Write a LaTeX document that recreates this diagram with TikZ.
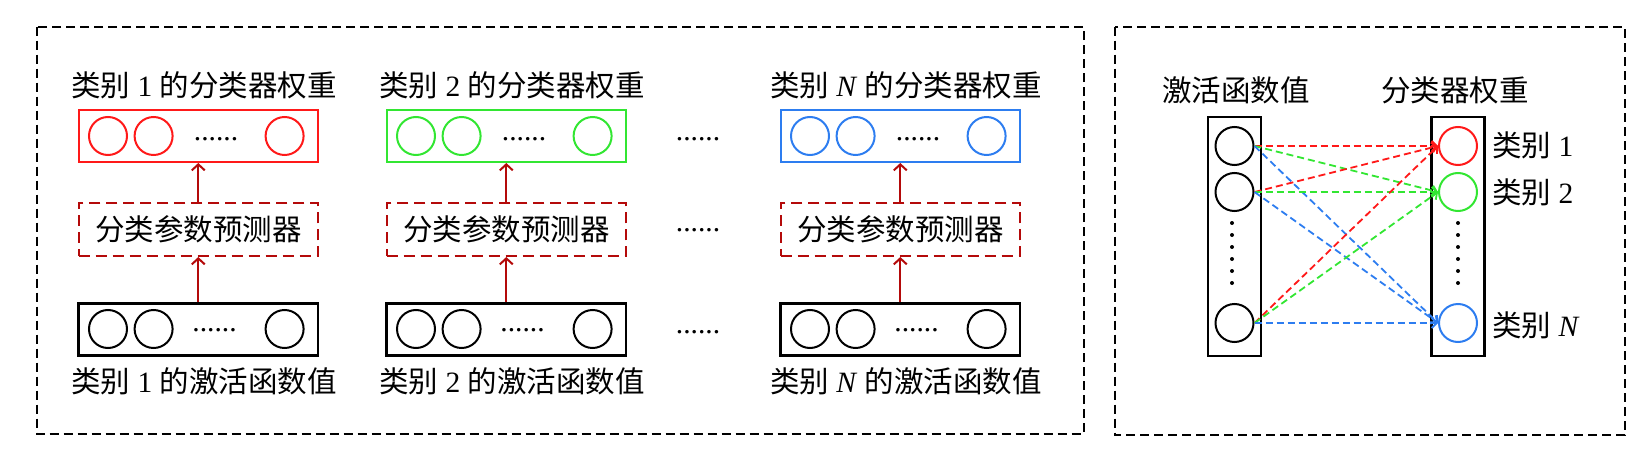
\documentclass[tikz,border=0pt]{standalone}
\usepackage{fontspec}
\setmainfont{Liberation Serif}
\newfontfamily\cjk{Noto Sans CJK SC}
\usetikzlibrary{arrows.meta}
\definecolor{cred}{RGB}{255,25,25}
\definecolor{cgreen}{RGB}{50,230,50}
\definecolor{cblue}{RGB}{45,125,240}
\definecolor{cdark}{RGB}{180,10,10}
\begin{document}
\begin{tikzpicture}[x=1pt,y=-1pt,
  font=\fontsize{29.5}{32}\selectfont,
  frame/.style={draw=black, line width=2pt, dash pattern=on 9pt off 5pt},
  vecbox/.style={draw, line width=2pt, minimum width=239.4pt, minimum height=52pt, inner sep=0pt},
  predbox/.style={draw=cdark, line width=2pt, dash pattern=on 11pt off 6pt, minimum width=239.4pt, minimum height=53pt, inner sep=0pt},
  unit/.style={circle, draw, line width=2pt, minimum size=38pt, inner sep=0pt},
  uparrow/.style={draw=cdark, line width=2pt, -{Straight Barb[length=6pt,width=13pt]}},
  link/.style={line width=1.8pt, dash pattern=on 7pt off 4pt, -{Straight Barb[length=5pt,width=10pt]}},
  txt/.style={inner sep=0pt},
  vdot/.style={circle, fill, inner sep=0pt, minimum size=4pt},
  tallbox/.style={draw, line width=2.5pt, minimum width=53pt, minimum height=239pt, inner sep=0pt}
]
\useasboundingbox (0,0) rectangle (1650,460);

% frames
\draw[frame] (36.8,26.7) rectangle (1083.6,434);
\draw[frame] (1114.5,26.7) rectangle (1625,435);

% left panel columns
\foreach \i/\dx/\col/\lab in {1/0/cred/1, 2/308/cgreen/2, 3/702/cblue/\textit{N}} {
  \node[txt] (t\i) at (204+\dx,85) {{\cjk 类别} \lab{} {\cjk 的分类器权重}};
  \node[vecbox, draw=\col] (w\i) at (198.3+\dx,136) {};
  \node[unit, draw=\col] (wa\i) at (108+\dx,136) {};
  \node[unit, draw=\col] (wb\i) at (153.6+\dx,136) {};
  \node[unit, draw=\col] (wc\i) at (284.6+\dx,136) {};
  \node[txt, anchor=base] (wd\i) at (216+\dx,140) {......};
  \node[predbox] (p\i) at (198.3+\dx,229.5) {\cjk 分类参数预测器};
  \node[vecbox, line width=2.5pt] (a\i) at (198.3+\dx,329.5) {};
  \node[unit] (aa\i) at (108+\dx,329) {};
  \node[unit] (ab\i) at (153.6+\dx,329) {};
  \node[unit] (ac\i) at (284.6+\dx,329) {};
  \node[txt, anchor=base] (ad\i) at (214.5+\dx,331) {......};
  \node[txt] (b\i) at (204+\dx,381.7) {{\cjk 类别} \lab{} {\cjk 的激活函数值}};
  \draw[uparrow] (a\i.north) -- (p\i.south);
  \draw[uparrow] (p\i.north) -- (w\i.south);
}
\node[txt, anchor=base] (m1) at (698,140) {......};
\node[txt, anchor=base] (m2) at (698,231) {......};
\node[txt, anchor=base] (m3) at (698,333) {......};

% right panel
\node[txt] (hl) at (1236,90) {\cjk 激活函数值};
\node[txt] (hr) at (1455,90) {\cjk 分类器权重};
\node[tallbox] (L) at (1234.5,236.5) {};
\node[tallbox] (R) at (1458,236.5) {};
\node[unit] (l1) at (1234.5,146) {};
\node[unit] (l2) at (1234.5,192) {};
\node[unit] (l3) at (1234.5,323) {};
\node[unit, draw=cred] (r1) at (1458,146) {};
\node[unit, draw=cgreen] (r2) at (1458,192) {};
\node[unit, draw=cblue] (r3) at (1458,323) {};
\foreach \k in {0,...,5} {
  \node[vdot] (ldot\k) at (1232,223+12*\k) {};
  \node[vdot] (rdot\k) at (1458,223+12*\k) {};
}
\node[txt, anchor=west] (c1) at (1492,145) {{\cjk 类别} 1};
\node[txt, anchor=west] (c2) at (1492,192) {{\cjk 类别} 2};
\node[txt, anchor=west] (c3) at (1492,325) {{\cjk 类别} \textit{N}};
\foreach \s in {1,2,3} {
  \draw[link, cred] (l\s.east) -- (r1.west);
  \draw[link, cgreen] (l\s.east) -- (r2.west);
  \draw[link, cblue] (l\s.east) -- (r3.west);
}
\end{tikzpicture}
\end{document}
